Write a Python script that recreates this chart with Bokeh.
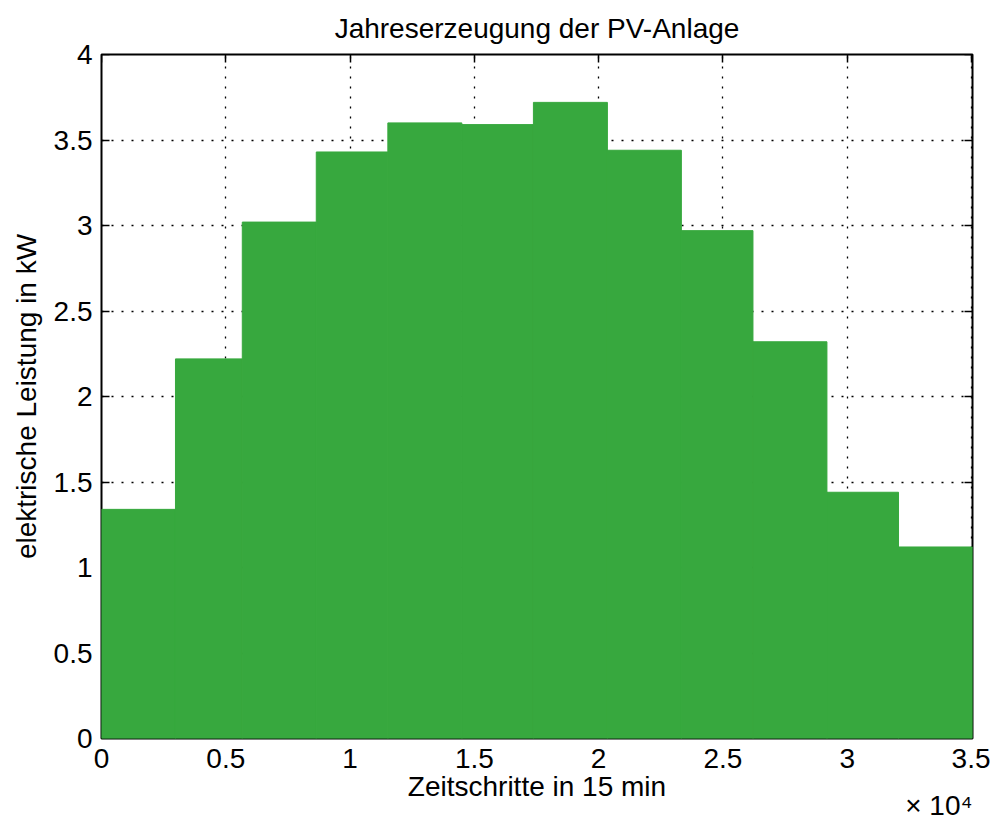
import numpy as np
from bokeh.plotting import figure
from bokeh.models import Range1d, FixedTicker, LinearAxis, Title, ColumnDataSource
from bokeh.embed import file_html
from bokeh.resources import INLINE

# ---- data ----
title_text = "Jahreserzeugung der PV-Anlage"
x_label = "Zeitschritte in 15 min"
y_label = "elektrische Leistung in kW"
x_multiplier_text = "× 10⁴"
x_multiplier = 1e4

month_days = [31, 28, 31, 30, 31, 30, 31, 31, 30, 31, 30, 31]
steps_per_day = 96  # 15-minute steps
mean_power_kw = [1.34, 2.22, 3.02, 3.43, 3.60, 3.59, 3.72, 3.44, 2.97, 2.32, 1.44, 1.12]

x_tick_labels = ["0", "0.5", "1", "1.5", "2", "2.5", "3", "3.5"]
y_tick_labels = ["0", "0.5", "1", "1.5", "2", "2.5", "3", "3.5", "4"]

# ---- derived ----
edges = np.concatenate([[0], np.cumsum(month_days) * steps_per_day]).astype(float)
x_ticks = [float(s) * x_multiplier for s in x_tick_labels]
y_ticks = [float(s) for s in y_tick_labels]
x_over = {t: s for t, s in zip(x_ticks, x_tick_labels)}
y_over = {t: s for t, s in zip(y_ticks, y_tick_labels)}

src = ColumnDataSource(dict(left=edges[:-1], right=edges[1:],
                            top=mean_power_kw, bottom=[0.0] * len(mean_power_kw)))

FONT = "Liberation Sans"
FS = "28px"
BAR = "#37a83e"

p = figure(width=990, height=821, output_backend="svg", toolbar_location=None,
           x_range=Range1d(0, edges[-1]), y_range=Range1d(0, y_ticks[-1]),
           min_border_left=101, min_border_right=18, min_border_top=54, min_border_bottom=83,
           background_fill_color="white", border_fill_color="white")

p.quad(left="left", right="right", top="top", bottom="bottom", source=src,
       fill_color=BAR, line_color=BAR, line_width=1)

# title
p.title.text = title_text
p.title.align = "center"
p.title.vertical_align = "top"
p.title.standoff = 18
p.title.text_font = FONT
p.title.text_font_size = FS
p.title.text_font_style = "normal"
p.title.text_color = "black"

p.outline_line_color = "black"
p.outline_line_width = 2
p.outline_line_alpha = 1

def style_axis(ax, ticks, overrides, show_labels, tick_in):
    ax.ticker = FixedTicker(ticks=ticks)
    ax.major_label_overrides = overrides if show_labels else {t: "" for t in ticks}
    ax.major_tick_in = tick_in
    ax.major_tick_out = 0
    ax.major_tick_line_color = "black"
    ax.major_tick_line_width = 1.5
    ax.minor_tick_line_color = None
    ax.axis_line_color = None
    ax.major_label_text_font = FONT
    ax.major_label_text_font_size = FS
    ax.major_label_text_color = "black"
    ax.axis_label_text_font = FONT
    ax.axis_label_text_font_size = FS
    ax.axis_label_text_font_style = "normal"
    ax.axis_label_text_color = "black"

def tick_only(ax):
    # ticks drawn beneath the bars (inside the frame), no labels
    ax.major_label_standoff = 0
    ax.level = "underlay"

xa = p.xaxis[0]
style_axis(xa, x_ticks, x_over, True, 0)
xa.axis_label = x_label
xa.major_label_standoff = 10
xa.axis_label_standoff = 0

ya = p.yaxis[0]
style_axis(ya, y_ticks, y_over, True, 0)
ya.axis_label = y_label
ya.major_label_standoff = 9
ya.axis_label_standoff = 9

left_ticks = LinearAxis()
style_axis(left_ticks, y_ticks, y_over, False, 8)
tick_only(left_ticks)
p.left = [left_ticks, ya]

top_ax = LinearAxis()
style_axis(top_ax, x_ticks, x_over, False, 8)
tick_only(top_ax)
p.add_layout(top_ax, "above")

right_ax = LinearAxis()
style_axis(right_ax, y_ticks, y_over, False, 8)
tick_only(right_ax)
p.add_layout(right_ax, "right")

# grid
for g in (p.xgrid[0], p.ygrid[0]):
    g.grid_line_color = "black"
    g.grid_line_dash = "2 8"
    g.grid_line_width = 1.3
    g.grid_line_alpha = 1
p.xgrid[0].ticker = FixedTicker(ticks=x_ticks)
p.ygrid[0].ticker = FixedTicker(ticks=y_ticks)

# x10^4 multiplier below the axis, right-aligned
mult = Title(text=x_multiplier_text, align="right", vertical_align="bottom",
             standoff=-33, text_font=FONT, text_font_size=FS,
             text_font_style="normal", text_color="black")
p.add_layout(mult, "below")

open("out.html", "w").write(file_html(p, INLINE))
